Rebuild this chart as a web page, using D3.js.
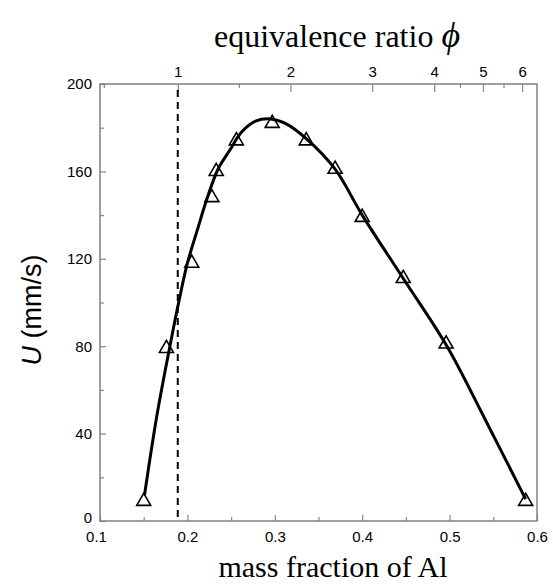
<!DOCTYPE html>
<html>
<head>
<meta charset="utf-8">
<script src="https://cdn.jsdelivr.net/npm/d3@7"></script>
<style>
  body { margin: 0; background: #fff; }
  .tick text { font-family: "Liberation Sans", Arial, sans-serif; font-size: 15px; fill: #000; }
  .tick line { stroke: #888; stroke-width: 1.2; }
</style>
</head>
<body>
<svg width="553" height="587"></svg>
<script>
// measured points
const massFrac = [0.150, 0.176, 0.205, 0.228, 0.233, 0.256, 0.297, 0.336, 0.369, 0.400, 0.447, 0.496, 0.587];
const speed = [9, 79, 118, 148, 160, 174, 182, 174, 161, 139, 111, 81, 9];

// fitted curve
const fitFrac = [0.151, 0.165, 0.180, 0.190, 0.200, 0.212, 0.222, 0.235, 0.249, 0.262, 0.278, 0.295, 0.312, 0.336, 0.369, 0.400, 0.447, 0.497, 0.540, 0.587];
const fitU = [12, 48, 80, 100, 118, 134, 147, 161, 170, 178, 183, 184, 182, 175, 161, 140, 111, 80, 47, 10];

// axes ticks
const xTicks = [0.1, 0.2, 0.3, 0.4, 0.5, 0.6];
const xMinor = [0.15, 0.25, 0.35, 0.45, 0.55];
const yTicks = [0, 40, 80, 120, 160, 200];
const yMinor = [20, 60, 100, 140, 180];
const phiTicks = [1, 2, 3, 4, 5, 6];
const phiMinor = [0.5, 1.5, 4.5, 5.5];
const stoich = 0.233; // fuel/oxidizer mass ratio at phi = 1

function phiToMass(phi) {
  const r = phi * stoich;
  return r / (1 + r);
}

const svg = d3.select("svg");
const mLeft = 100, mRight = 537, mTop = 84, mBottom = 521;

const x = d3.scaleLinear().domain([0.1, 0.6]).range([mLeft, mRight]);
const y = d3.scaleLinear().domain([0, 200]).range([mBottom, mTop]);

// bottom axis
svg.append("g")
  .attr("transform", "translate(0," + mBottom + ")")
  .call(d3.axisBottom(x).tickValues(xTicks).tickSize(-6).tickSizeOuter(0).tickPadding(10).tickFormat(d3.format(".1f")))
  .call(g => g.select(".domain").remove())
  .call(g => g.selectAll(".tick text").filter(d => d === 0.1).attr("dx", -4));
svg.append("g")
  .attr("transform", "translate(0," + mBottom + ")")
  .call(d3.axisBottom(x).tickValues(xMinor).tickSize(-4).tickSizeOuter(0).tickFormat(""))
  .call(g => g.select(".domain").remove());

// left axis
svg.append("g")
  .attr("transform", "translate(" + mLeft + ",0)")
  .call(d3.axisLeft(y).tickValues(yTicks).tickSize(-6).tickSizeOuter(0).tickPadding(8))
  .call(g => g.select(".domain").remove())
  .call(g => g.selectAll(".tick text").filter(d => d === 0).attr("dy", "0.1em"));
svg.append("g")
  .attr("transform", "translate(" + mLeft + ",0)")
  .call(d3.axisLeft(y).tickValues(yMinor).tickSize(-4).tickSizeOuter(0).tickFormat(""))
  .call(g => g.select(".domain").remove());

// top axis (equivalence ratio)
const phiLabel = new Map(phiTicks.map(p => [phiToMass(p), p]));
svg.append("g")
  .attr("transform", "translate(0," + mTop + ")")
  .call(d3.axisTop(x).tickValues(phiTicks.map(phiToMass)).tickSize(-8).tickSizeOuter(0).tickPadding(7)
    .tickFormat(d => phiLabel.get(d)))
  .call(g => g.select(".domain").remove());
svg.append("g")
  .attr("transform", "translate(0," + mTop + ")")
  .call(d3.axisTop(x).tickValues(phiMinor.map(phiToMass)).tickSize(-4).tickSizeOuter(0).tickFormat(""))
  .call(g => g.select(".domain").remove());

// frame
svg.append("rect")
  .attr("x", mLeft).attr("y", mTop)
  .attr("width", mRight - mLeft).attr("height", mBottom - mTop)
  .attr("fill", "none").attr("stroke", "#808080").attr("stroke-width", 1.5);

// stoichiometric line
svg.append("line")
  .attr("x1", x(phiToMass(1))).attr("x2", x(phiToMass(1)))
  .attr("y1", mTop + 6).attr("y2", mBottom)
  .attr("stroke", "#000").attr("stroke-width", 2)
  .attr("stroke-dasharray", "7,5");

// fitted curve
const fit = fitFrac.map((f, i) => [f, fitU[i]]);
svg.append("path")
  .datum(fit)
  .attr("fill", "none")
  .attr("stroke", "#000")
  .attr("stroke-width", 3)
  .attr("d", d3.line().x(d => x(d[0])).y(d => y(d[1])).curve(d3.curveCatmullRom));

// data points
const pts = massFrac.map((f, i) => [f, speed[i]]);
svg.append("g").selectAll("path")
  .data(pts)
  .enter().append("path")
  .attr("transform", d => "translate(" + x(d[0]) + "," + y(d[1]) + ")")
  .attr("d", d3.symbol(d3.symbolTriangle, 85))
  .attr("fill", "none")
  .attr("stroke", "#000")
  .attr("stroke-width", 1.6);

// titles
svg.append("text")
  .attr("x", 333).attr("y", 577)
  .attr("text-anchor", "middle")
  .attr("font-family", "Liberation Serif, Times New Roman, serif")
  .attr("font-size", 30)
  .text("mass fraction of Al");

const topTitle = svg.append("text")
  .attr("x", 337).attr("y", 47)
  .attr("text-anchor", "middle")
  .attr("font-family", "Liberation Serif, Times New Roman, serif")
  .attr("font-size", 32);
topTitle.append("tspan").text("equivalence ratio ");
topTitle.append("tspan").attr("font-style", "italic").attr("font-size", 36).text("ϕ");

const yTitle = svg.append("text")
  .attr("transform", "translate(41,310) rotate(-90)")
  .attr("text-anchor", "middle")
  .attr("font-family", "Liberation Sans, Arial, sans-serif")
  .attr("font-size", 27);
yTitle.append("tspan").attr("font-style", "italic").text("U");
yTitle.append("tspan").text(" (mm/s)");
</script>
</body>
</html>
